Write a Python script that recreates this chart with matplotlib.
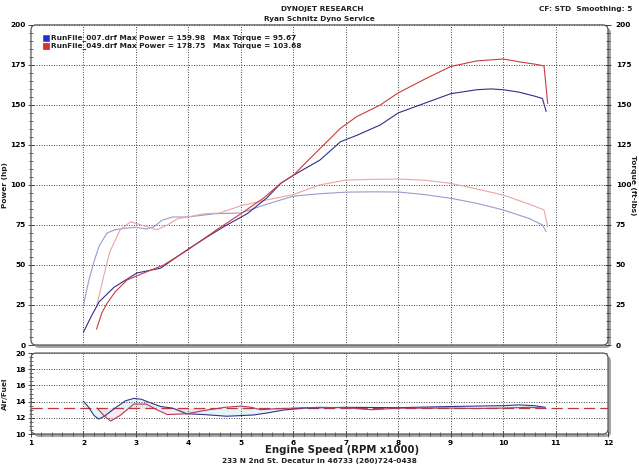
import matplotlib
matplotlib.use("Agg")
import matplotlib.pyplot as plt
import matplotlib.transforms as mtransforms
from matplotlib.patches import FancyBboxPatch, Rectangle
from matplotlib.ticker import MultipleLocator

# %% data
rpm_pwr_007 = [2.0, 2.15, 2.3, 2.58, 3.02, 3.47, 4.0, 4.43, 4.68, 5.12, 5.5, 5.76, 6.0, 6.51, 6.9, 7.21, 7.66, 8.0, 8.5, 9.0, 9.5, 9.77, 10.0, 10.3, 10.6, 10.75, 10.82]
pwr_007 = [8, 18, 27, 36, 45, 48, 60, 69, 74, 82, 92, 101, 106, 115.6, 127, 131, 137.5, 145, 151, 157, 159.5, 160, 159.5, 158, 155.5, 154, 146]

rpm_pwr_049 = [2.25, 2.35, 2.45, 2.6, 2.83, 3.15, 3.53, 3.97, 4.54, 5.0, 5.43, 5.76, 6.0, 6.29, 6.58, 6.9, 7.21, 7.66, 8.0, 8.5, 9.0, 9.5, 10.0, 10.3, 10.6, 10.78, 10.85]
pwr_049 = [10, 20, 26, 33, 40.6, 45, 50, 59, 72, 82, 91.7, 101, 106, 115.6, 125, 135.4, 142.7, 150, 157.5, 166, 174, 177.5, 178.7, 177, 175.5, 174.4, 151]

rpm_tq_007 = [2.0, 2.1, 2.2, 2.3, 2.45, 2.6, 2.8, 3.0, 3.2, 3.35, 3.5, 3.7, 4.0, 4.5, 5.0, 5.5, 6.0, 6.5, 7.0, 7.5, 8.0, 8.5, 9.0, 9.5, 10.0, 10.5, 10.75, 10.82]
tq_007 = [25, 40, 52, 62, 70, 72, 73, 73.5, 72.5, 74, 78, 80, 80, 82, 82.5, 88, 93, 94.5, 95.5, 95.7, 95.6, 94, 91.7, 88.5, 84.4, 79, 75, 70.8]

rpm_tq_049 = [2.25, 2.4, 2.5, 2.7, 2.9, 3.1, 3.4, 3.6, 3.8, 4.0, 4.3, 4.6, 5.0, 5.4, 6.0, 6.5, 7.0, 7.5, 8.0, 8.5, 9.0, 9.5, 10.0, 10.5, 10.78, 10.85]
tq_049 = [24, 45, 58, 72, 77, 75, 72, 75, 79, 80, 82, 82.5, 87, 90, 94, 100, 103, 103.5, 103.7, 103, 101, 97.5, 93.7, 88, 84.4, 74]

rpm_afr_007 = [2.0, 2.1, 2.2, 2.29, 2.4, 2.6, 2.8, 2.96, 3.1, 3.3, 3.47, 3.7, 3.97, 4.3, 4.73, 5.24, 5.5, 5.81, 6.2, 7.0, 8.0, 9.0, 10.0, 10.3, 10.6, 10.8]
afr_007 = [14.05, 13.3, 12.3, 11.85, 12.2, 13.2, 14.1, 14.4, 14.3, 13.8, 13.4, 13.2, 12.5, 12.4, 12.2, 12.35, 12.6, 12.96, 13.2, 13.3, 13.25, 13.4, 13.5, 13.6, 13.5, 13.3]

rpm_afr_049 = [2.26, 2.4, 2.52, 2.7, 2.96, 3.2, 3.4, 3.6, 3.97, 4.3, 4.7, 5.0, 5.2, 5.38, 5.6, 6.0, 6.5, 7.0, 7.5, 8.0, 9.0, 9.5, 10.0, 10.5, 10.8]
afr_049 = [13.2, 12.2, 11.6, 12.3, 13.7, 13.7, 13.0, 12.4, 12.5, 12.9, 13.3, 13.45, 13.3, 13.0, 13.1, 13.2, 13.3, 13.25, 13.0, 13.2, 13.2, 13.15, 13.2, 13.3, 13.2]

afr_target = 13.2

runs = ["RunFile_007.drf", "RunFile_049.drf"]
max_power = [159.98, 178.75]
max_torque = [95.67, 103.68]

# %%
blue_dark = "#2e2e8c"
blue_light = "#9a9ad0"
red_dark = "#cc3b3b"
red_light = "#eaa4a4"
fs = 5.3
font = dict(fontsize=fs, fontweight="bold", color="#202020")

fig = plt.figure(figsize=(6.39, 4.68), dpi=100)
ax = fig.add_axes([0.0485, 0.2628, 0.903, 0.684])
ax2 = fig.add_axes([0.0485, 0.0726, 0.903, 0.173])


def frame(a, aspect):
    for s in a.spines.values():
        s.set_visible(False)
    style = "round,pad=0,rounding_size=0.009"
    # drop shadow sits behind the axes, so only the bottom/right part shows
    shifted = mtransforms.offset_copy(a.transAxes, fig=fig, x=3, y=-3, units="dots")
    shadow = FancyBboxPatch((0, 0), 1.0, 1.0, boxstyle=style, mutation_aspect=aspect,
                            transform=shifted, fc="#a4a4a4", ec="none", zorder=-5)
    fig.add_artist(shadow)
    box = FancyBboxPatch((0, 0), 1.0, 1.0, boxstyle=style, mutation_aspect=aspect,
                         transform=a.transAxes, fc="none", ec="#585858", lw=0.9, clip_on=False, zorder=5)
    a.add_patch(box)


def tick_style(a, axis="y"):
    a.tick_params(axis=axis, which="major", direction="inout", length=5, width=0.6,
                  labelsize=fs, pad=1.5, color="#303030")
    a.tick_params(axis=axis, which="minor", direction="inout", length=3, width=0.5, color="#303030")


# top panel: power + torque
ax.plot(rpm_tq_007, tq_007, color=blue_light, lw=0.8)
ax.plot(rpm_tq_049, tq_049, color=red_light, lw=0.8)
ax.plot(rpm_pwr_007, pwr_007, color=blue_dark, lw=0.8)
ax.plot(rpm_pwr_049, pwr_049, color=red_dark, lw=0.8)
ax.set_xlim(1, 12)
ax.set_ylim(0, 200)
ax.set_xticks(range(2, 12))
ax.set_xticklabels([])
ax.set_yticks(range(0, 201, 25))
ax.yaxis.set_minor_locator(MultipleLocator(5))
ax.tick_params(axis="x", length=0)
tick_style(ax)
for lab in ax.get_yticklabels():
    lab.set_fontweight("bold")
ax.grid(True, color="#303030", ls=(0, (1.2, 1.8)), lw=0.6)
ax.set_ylabel("Power (hp)", **font)
ax.yaxis.set_label_coords(-0.04, 0.5)
frame(ax, 577 / 320)

axr = ax.twinx()
axr.set_ylim(0, 200)
axr.set_yticks(range(0, 201, 25))
axr.yaxis.set_minor_locator(MultipleLocator(5))
tick_style(axr)
axr.tick_params(axis="y", which="major", pad=3)
for lab in axr.get_yticklabels():
    lab.set_fontweight("bold")
for s in axr.spines.values():
    s.set_visible(False)
axr.set_ylabel("Torque (ft-lbs)", rotation=270, va="center", **font)
axr.yaxis.set_label_coords(1.043, 0.5)

# legend inside the plot
for i, c in enumerate(["#2a2ad0", "#d83030"]):
    y = 0.959 - i * 0.025
    ax.add_patch(Rectangle((0.021, y - 0.009), 0.010, 0.018, transform=ax.transAxes,
                           fc=c, ec="#404040", lw=0.4, clip_on=False, zorder=6))
    ax.text(0.0345, y, f"{runs[i]} Max Power = {max_power[i]:.2f}", transform=ax.transAxes,
            va="center", ha="left", **font)
    ax.text(0.315, y, f"Max Torque = {max_torque[i]:.2f}", transform=ax.transAxes,
            va="center", ha="left", **font)

# bottom panel: air/fuel
ax2.fill_between(rpm_afr_007, afr_007, afr_target, color="#d4eef6", alpha=0.6, lw=0)
ax2.fill_between(rpm_afr_049, afr_049, afr_target, color="#f6d4de", alpha=0.5, lw=0)
ax2.axhline(afr_target, color="#c03838", lw=0.9, dashes=(9, 4))
ax2.plot(rpm_afr_007, afr_007, color="#34348a", lw=0.8)
ax2.plot(rpm_afr_049, afr_049, color="#b23a5a", lw=0.8)
ax2.set_xlim(1, 12)
ax2.set_ylim(10, 20)
ax2.set_xticks(range(1, 13))
ax2.set_yticks(range(10, 21, 2))
ax2.xaxis.set_minor_locator(MultipleLocator(0.2))
ax2.yaxis.set_minor_locator(MultipleLocator(0.5))
tick_style(ax2, "both")
for lab in ax2.get_xticklabels() + ax2.get_yticklabels():
    lab.set_fontweight("bold")
ax2.grid(True, color="#303030", ls=(0, (1.2, 1.8)), lw=0.6)
ax2.set_ylabel("Air/Fuel", **font)
ax2.yaxis.set_label_coords(-0.04, 0.5)
frame(ax2, 577 / 81)

# header / footer text
fig.text(0.504, 0.987, "DYNOJET RESEARCH", ha="center", va="top", **font)
fig.text(0.5, 0.966, "Ryan Schnitz Dyno Service", ha="center", va="top", **font)
fig.text(0.989, 0.987, "CF: STD  Smoothing: 5", ha="right", va="top", **font)
fig.text(0.535, 0.038, "Engine Speed (RPM x1000)", ha="center", va="center",
         fontsize=7.3, fontweight="bold", color="#202020")
fig.text(0.5, 0.008, "233 N 2nd St. Decatur In 46733 (260)724-0438", ha="center", va="bottom", **font)

fig.savefig("out.png", dpi=100)
